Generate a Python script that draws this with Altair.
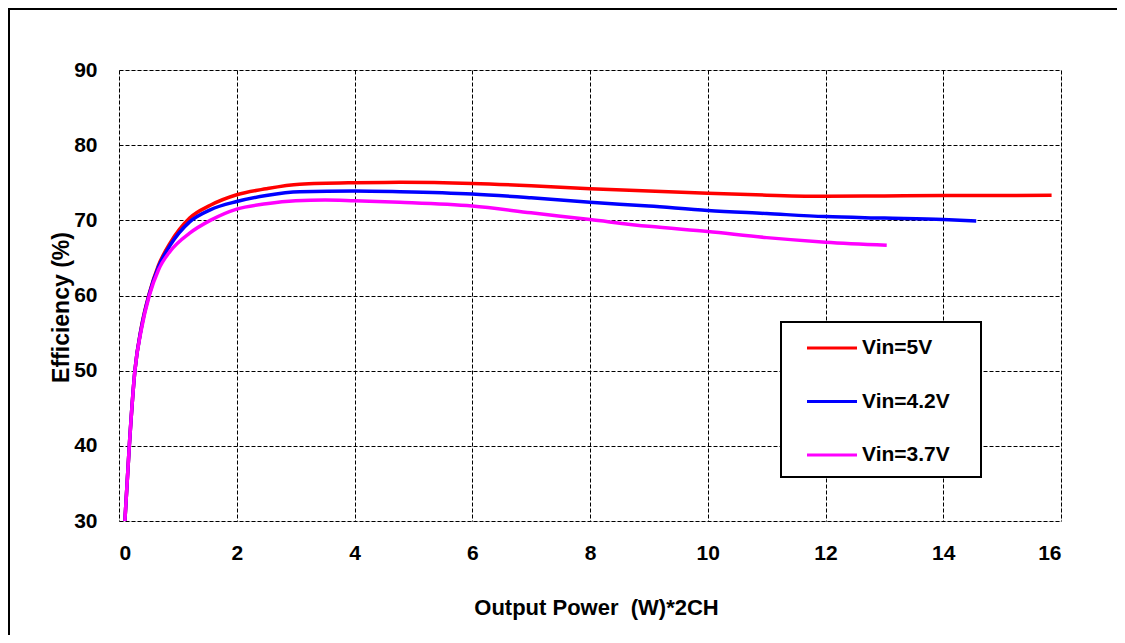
import altair as alt
import pandas as pd

# ---- data ----
series_names = ["Vin=5V", "Vin=4.2V", "Vin=3.7V"]
series_colors = ["#FF0000", "#0000FF", "#FF00FF"]

power_5v = [0.1, 0.175, 0.27, 0.38, 0.515, 0.67, 0.87, 1.2, 1.55, 2.0, 2.5, 3.07, 4.0, 4.77,
            6.0, 7.0, 8.0, 9.0, 10.0, 11.0, 12.0, 13.0, 14.0, 15.0, 15.84]
eff_5v = [30, 40, 50, 55.8, 60.3, 64.0, 67.0, 70.3, 72.0, 73.4, 74.2, 74.8, 75.0, 75.05,
          74.9, 74.6, 74.2, 73.9, 73.6, 73.35, 73.2, 73.25, 73.3, 73.3, 73.35]

power_42v = [0.1, 0.175, 0.27, 0.38, 0.515, 0.67, 0.87, 1.2, 1.55, 2.0, 2.5, 3.07, 4.0, 4.77,
             6.0, 7.0, 8.0, 9.0, 10.0, 11.0, 12.0, 13.0, 14.0, 14.56]
eff_42v = [30, 40, 50, 55.7, 60.2, 63.8, 66.7, 69.8, 71.4, 72.5, 73.3, 73.8, 73.9, 73.8,
           73.5, 73.0, 72.4, 71.9, 71.3, 70.9, 70.5, 70.3, 70.1, 69.9]

power_37v = [0.1, 0.175, 0.27, 0.38, 0.515, 0.67, 0.87, 1.2, 1.55, 2.0, 2.5, 3.0, 3.5, 4.0,
             4.77, 6.0, 7.0, 8.0, 9.0, 10.0, 11.0, 12.0, 13.04]
eff_37v = [30, 40, 50, 55.5, 60.0, 63.4, 65.9, 68.3, 70.0, 71.5, 72.2, 72.6, 72.7, 72.6,
           72.4, 71.9, 71.0, 70.1, 69.2, 68.5, 67.7, 67.1, 66.7]

x_ticks = [0, 2, 4, 6, 8, 10, 12, 14, 16]
y_ticks = [30, 40, 50, 60, 70, 80, 90]

rows = []
for name, xs, ys in zip(series_names, [power_5v, power_42v, power_37v], [eff_5v, eff_42v, eff_37v]):
    for i, (px, ey) in enumerate(zip(xs, ys)):
        rows.append({"series": name, "power": px, "eff": ey, "idx": i})
df = pd.DataFrame(rows)

FONT = "Liberation Sans"
W, H = 942, 451

one = pd.DataFrame({"k": [0]})

# outer figure frame: only top and left edges are visible in the reference
frame_top = alt.Chart(one).mark_rule(stroke="black", strokeWidth=2).encode(
    x=alt.value(-110), x2=alt.value(3000), y=alt.value(-61)
)
frame_left = alt.Chart(one).mark_rule(stroke="black", strokeWidth=2).encode(
    x=alt.value(-110), y=alt.value(-62), y2=alt.value(3000)
)

# legend box
legend_box = alt.Chart(one).mark_rect(fill="white", stroke="black", strokeWidth=2).encode(
    x=alt.value(662), x2=alt.value(862), y=alt.value(252), y2=alt.value(407)
)

lines = alt.Chart(df).mark_line(strokeWidth=3.5, interpolate="monotone").encode(
    x=alt.X("power:Q",
            scale=alt.Scale(domain=[0, 16], nice=False, zero=False),
            axis=alt.Axis(values=x_ticks, format="d", grid=True, gridColor="black",
                          gridDash=[4, 2], gridWidth=1, domain=False, ticks=False, tickSize=0,
                          labelPadding=21, labelFontSize=21, labelFontWeight="bold",
                          labelFont=FONT, labelColor="black",
                          title="Output Power \u00a0(W)*2CH", titleFont=FONT, titleFontSize=22,
                          titleFontWeight="bold", titleColor="black",
                          titleX=477, titleY=93, titleBaseline="alphabetic",
                          titleAlign="center")),
    y=alt.Y("eff:Q",
            scale=alt.Scale(domain=[30, 90], nice=False, zero=False),
            axis=alt.Axis(values=y_ticks, format="d", grid=True, gridColor="black",
                          gridDash=[4, 2], gridWidth=1, domain=False, ticks=False, tickSize=0,
                          labelPadding=22, labelFontSize=21, labelFontWeight="bold",
                          labelFont=FONT, labelColor="black",
                          title="Efficiency (%)", titleFont=FONT, titleFontSize=23,
                          titleFontWeight="bold", titleColor="black",
                          titleX=-51, titleY=237, titleAngle=270,
                          titleBaseline="alphabetic", titleAlign="center")),
    color=alt.Color("series:N",
                    scale=alt.Scale(domain=series_names, range=series_colors),
                    legend=alt.Legend(orient="none", legendX=686.5, legendY=251.5,
                                      title=None, symbolType="stroke", symbolSize=2500,
                                      symbolStrokeWidth=3, labelFont=FONT,
                                      labelFontSize=21, labelFontWeight="bold",
                                      labelColor="black", labelOffset=3.5,
                                      rowPadding=16.5, padding=0, labelLimit=0)),
    order=alt.Order("idx:Q"),
)

chart = alt.layer(frame_top, frame_left, legend_box, lines).properties(
    width=W, height=H,
    padding={"left": 111, "top": 62, "right": 56, "bottom": 114},
    autosize=alt.AutoSizeParams(type="none"),
).configure_view(stroke="black", strokeWidth=2).configure(background="white")

chart.save("out.html", embed_options={"renderer": "svg", "actions": False})
